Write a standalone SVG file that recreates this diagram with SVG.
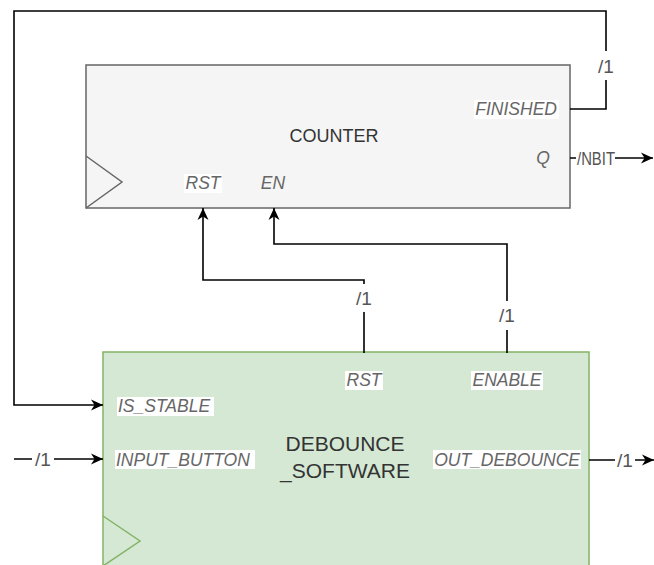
<svg xmlns="http://www.w3.org/2000/svg" width="654" height="565" viewBox="0 0 654 565">
  <style>
    .title { font-family: "Liberation Sans", Arial, sans-serif; fill: #333333; text-anchor: middle; dominant-baseline: central; }
    .port { font-family: "Liberation Sans", Arial, sans-serif; font-style: italic; font-size: 17.5px; fill: #666666; dominant-baseline: central; }
    .bus { font-family: "Liberation Sans", Arial, sans-serif; font-size: 19px; fill: #555555; text-anchor: middle; dominant-baseline: central; }
    .wire { fill: none; stroke: #000000; stroke-width: 1.6; }
    .lblbg { fill: #ffffff; }
  </style>
  <defs>
    <marker id="arrow" markerUnits="userSpaceOnUse" markerWidth="13" markerHeight="13" viewBox="0 0 13 13" refX="12" refY="6.5" orient="auto">
      <path d="M0,1 L12,6.5 L0,12 L3.5,6.5 Z" fill="#000000"/>
    </marker>
  </defs>

  <rect width="654" height="565" fill="#ffffff"/>

  <!-- COUNTER block -->
  <g id="counter">
    <rect x="86" y="65" width="484" height="143" fill="#f5f5f5" stroke="#666666" stroke-width="1.5"/>
    <path d="M86,156 L122,182 L86,208" fill="none" stroke="#666666" stroke-width="1.5"/>
    <text class="title" x="334" y="136" font-size="18">COUNTER</text>
    <rect class="lblbg" x="474" y="100" width="85" height="19"/>
    <text class="port" x="557" y="109" text-anchor="end">FINISHED</text>
    <text class="port" x="543" y="158" text-anchor="middle">Q</text>
    <rect class="lblbg" x="184" y="174" width="38" height="19"/>
    <text class="port" x="203" y="183" text-anchor="middle">RST</text>
    <text class="port" x="273" y="183" text-anchor="middle">EN</text>
  </g>

  <!-- DEBOUNCE_SOFTWARE block -->
  <g id="debounce">
    <rect x="103" y="352" width="486" height="230" fill="#d5e8d4" stroke="#82b366" stroke-width="1.5"/>
    <path d="M103,516 L140,541 L103,566" fill="none" stroke="#82b366" stroke-width="1.5"/>
    <text class="title" x="345" y="443" font-size="21">DEBOUNCE</text>
    <text class="title" x="345" y="470" font-size="21">_SOFTWARE</text>
    <rect class="lblbg" x="345" y="371" width="38" height="19"/>
    <text class="port" x="364" y="380" text-anchor="middle">RST</text>
    <rect class="lblbg" x="471" y="371" width="72" height="19"/>
    <text class="port" x="507" y="380" text-anchor="middle">ENABLE</text>
    <rect class="lblbg" x="117" y="397" width="97" height="19"/>
    <text class="port" x="118" y="406">IS_STABLE</text>
    <rect class="lblbg" x="115" y="450" width="140" height="19"/>
    <text class="port" x="116" y="460">INPUT_BUTTON</text>
    <rect class="lblbg" x="433" y="450" width="148" height="19"/>
    <text class="port" x="580" y="460" text-anchor="end">OUT_DEBOUNCE</text>
  </g>

  <!-- Connectors -->
  <g id="connectors">
    <!-- FINISHED feedback into IS_STABLE -->
    <path class="wire" d="M570,109 H606 V11 H14 V405 H103" marker-end="url(#arrow)"/>
    <rect class="lblbg" x="596" y="51" width="20" height="29"/>
    <text class="bus" x="606" y="66">/1</text>

    <!-- Q output bus -->
    <path class="wire" d="M570,158 H653" marker-end="url(#arrow)"/>
    <rect class="lblbg" x="576" y="148" width="39" height="20"/>
    <text class="bus" x="596" y="158" font-size="18" textLength="38" lengthAdjust="spacingAndGlyphs" fill="#333333">/NBIT</text>

    <!-- RST from debounce to counter -->
    <path class="wire" d="M364,353 V280 H203 V208" marker-end="url(#arrow)"/>
    <rect class="lblbg" x="354" y="284" width="20" height="28"/>
    <text class="bus" x="364" y="298">/1</text>

    <!-- ENABLE from debounce to counter EN -->
    <path class="wire" d="M507,353 V244 H274 V208" marker-end="url(#arrow)"/>
    <rect class="lblbg" x="497" y="301" width="20" height="29"/>
    <text class="bus" x="507" y="315">/1</text>

    <!-- INPUT_BUTTON input -->
    <path class="wire" d="M14,459 H103" marker-end="url(#arrow)"/>
    <rect class="lblbg" x="32" y="449" width="22" height="20"/>
    <text class="bus" x="43" y="459" fill="#333333">/1</text>

    <!-- OUT_DEBOUNCE output -->
    <path class="wire" d="M589,460 H654" marker-end="url(#arrow)"/>
    <rect class="lblbg" x="615" y="450" width="20" height="20"/>
    <text class="bus" x="625" y="460" fill="#333333">/1</text>
  </g>
</svg>
